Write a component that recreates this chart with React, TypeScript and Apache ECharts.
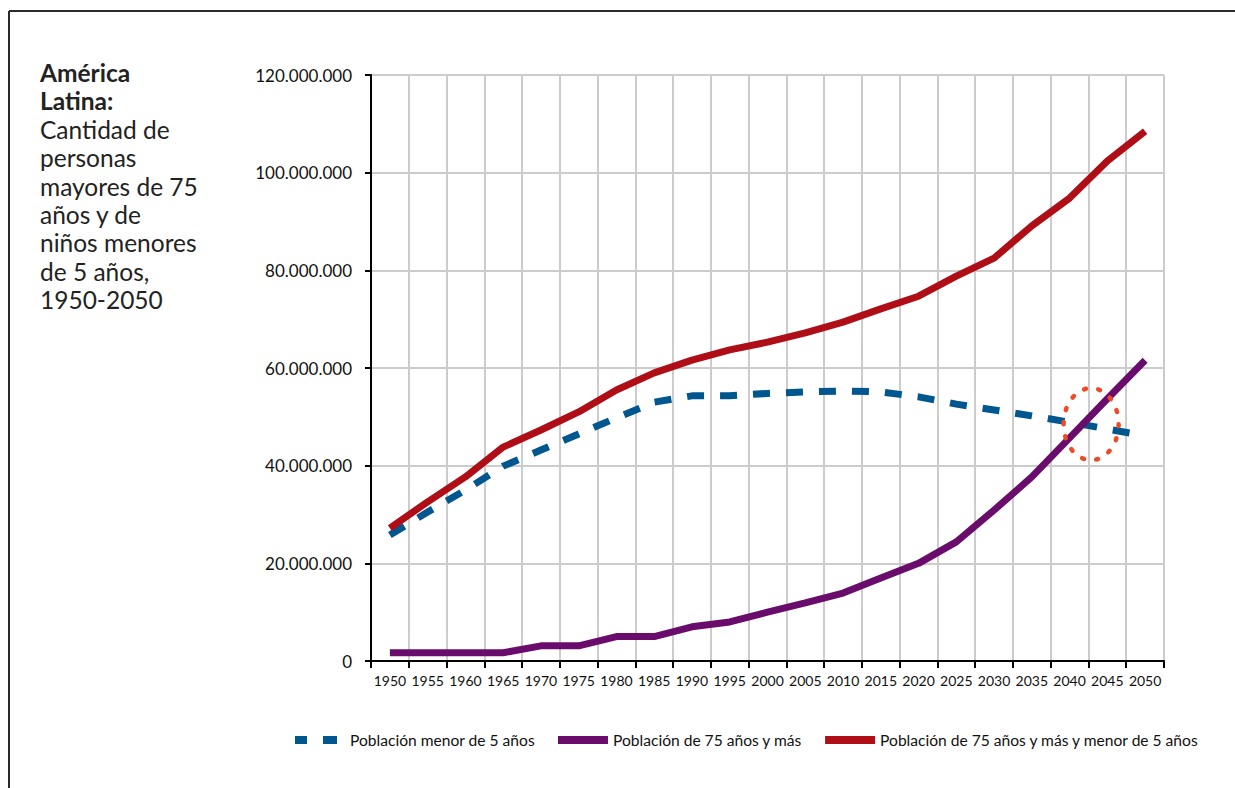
import React, { useEffect, useRef } from "react";
import * as echarts from "echarts";

const years = ["1950","1955","1960","1965","1970","1975","1980","1985","1990","1995","2000","2005","2010","2015","2020","2025","2030","2035","2040","2045","2050"];

const menor5 = [25800000,30500000,35000000,39900000,43200000,46500000,49800000,53000000,54300000,54300000,54800000,55100000,55300000,55100000,54100000,52600000,51400000,50200000,48900000,47500000,46100000];
const mayores75 = [1700000,1700000,1700000,1700000,3100000,3100000,5000000,5000000,7000000,8000000,10000000,11900000,13900000,17000000,20000000,24400000,30900000,37700000,45700000,53700000,61600000];
const total = [27200000,32600000,37700000,43800000,47300000,51000000,55500000,59000000,61600000,63700000,65300000,67200000,69400000,72100000,74700000,78800000,82500000,89100000,94800000,102400000,108500000];

const seriesNames = ["Población menor de 5 años","Población de 75 años y más","Población de 75 años y más y menor de 5 años"];
const titleBold = ["América","Latina:"];
const titleLines = ["Cantidad de","personas","mayores de 75","años y de","niños menores","de 5 años,","1950-2050"];

const FONT = "Lato, 'Open Sans', sans-serif";
const BLUE = "#00568F";
const PURPLE = "#6A0C6B";
const RED = "#B00E17";

const fmt = (v: number) => String(v).replace(/\B(?=(\d{3})+(?!\d))/g, ".");

export default function App() {
  const ref = useRef<HTMLDivElement>(null);
  useEffect(() => {
    if (!ref.current) return;
    const chart = echarts.init(ref.current, null, { renderer: "svg" });
    const titleEls: any[] = [];
    const all = [...titleBold.map((t) => ({ t, b: true })), ...titleLines.map((t) => ({ t, b: false }))];
    all.forEach((o, i) => {
      titleEls.push({
        type: "text",
        left: 40,
        top: 60 + i * 28.4,
        style: { text: o.t, font: `${o.b ? "bold " : ""}24.5px ${FONT}`, fill: "#222" },
      });
    });
    const baseGraphic = [
      { type: "line", shape: { x1: 9, y1: 11, x2: 1240, y2: 11 }, style: { stroke: "#2a2a2a", lineWidth: 2 } },
      { type: "line", shape: { x1: 9, y1: 11, x2: 9, y2: 800 }, style: { stroke: "#2a2a2a", lineWidth: 2 } },
      ...titleEls,
    ];
    const option: any = {
      animation: false,
      backgroundColor: "#fff",
      textStyle: { fontFamily: FONT },
      grid: { left: 371, right: 71, top: 75, bottom: 127, containLabel: false },
      legend: {
        left: 290,
        top: 727,
        itemWidth: 50,
        itemHeight: 8,
        itemGap: 23,
        textStyle: { fontFamily: FONT, fontSize: 15.6, color: "#111" },
        data: [
          { name: seriesNames[0], icon: "path://M0,0h12v8h-12z M28,0h14v8h-14z M50,4h0.01v0.01h-0.01z", itemStyle: { color: BLUE } },
          { name: seriesNames[1], icon: "rect", itemStyle: { color: PURPLE } },
          { name: seriesNames[2], icon: "rect", itemStyle: { color: RED } },
        ],
      },
      xAxis: {
        type: "category",
        data: years,
        boundaryGap: true,
        axisLine: { lineStyle: { color: "#000", width: 2 } },
        axisTick: { show: true, length: 7, lineStyle: { color: "#000", width: 2 } },
        axisLabel: { fontFamily: FONT, fontSize: 14, color: "#111", margin: 12, interval: 0 },
        splitLine: { show: true, lineStyle: { color: "#cccccc", width: 2 } },
      },
      yAxis: {
        type: "value",
        min: 0,
        max: 120000000,
        interval: 20000000,
        axisLine: { show: true, lineStyle: { color: "#000", width: 2 } },
        axisTick: { show: true, length: 6, lineStyle: { color: "#000", width: 2 } },
        axisLabel: { fontFamily: FONT, fontSize: 17, color: "#111", margin: 19, formatter: fmt },
        splitLine: { show: true, lineStyle: { color: "#cccccc", width: 2 } },
      },
      series: [
        { name: seriesNames[0], type: "line", data: menor5, symbol: "none", color: BLUE, lineStyle: { color: BLUE, width: 7, type: [17, 16], cap: "butt" } },
        { name: seriesNames[1], type: "line", data: mayores75, symbol: "none", color: PURPLE, lineStyle: { color: PURPLE, width: 7 } },
        { name: seriesNames[2], type: "line", data: total, symbol: "none", color: RED, lineStyle: { color: RED, width: 7 } },
      ],
      graphic: baseGraphic,
    };
    chart.setOption(option);
    const p18 = chart.convertToPixel({ xAxisIndex: 0, yAxisIndex: 0 }, [18, 48500000]) as number[];
    const p19 = chart.convertToPixel({ xAxisIndex: 0, yAxisIndex: 0 }, [19, 48500000]) as number[];
    const cx = p18[0] + (p19[0] - p18[0]) * 0.57;
    const cy = p18[1];
    chart.setOption({
      graphic: [
        ...baseGraphic,
        {
          type: "ellipse",
          shape: { cx, cy, rx: 27.5, ry: 36 },
          style: { fill: "none", stroke: "#EE4A25", lineWidth: 4.5, lineDash: [2, 12.3], lineCap: "round" },
          z: 10,
        },
      ],
    });
    return () => chart.dispose();
  }, []);
  return <div ref={ref} style={{ position: "fixed", left: 0, top: 0, width: 1235, height: 788 }} />;
}
